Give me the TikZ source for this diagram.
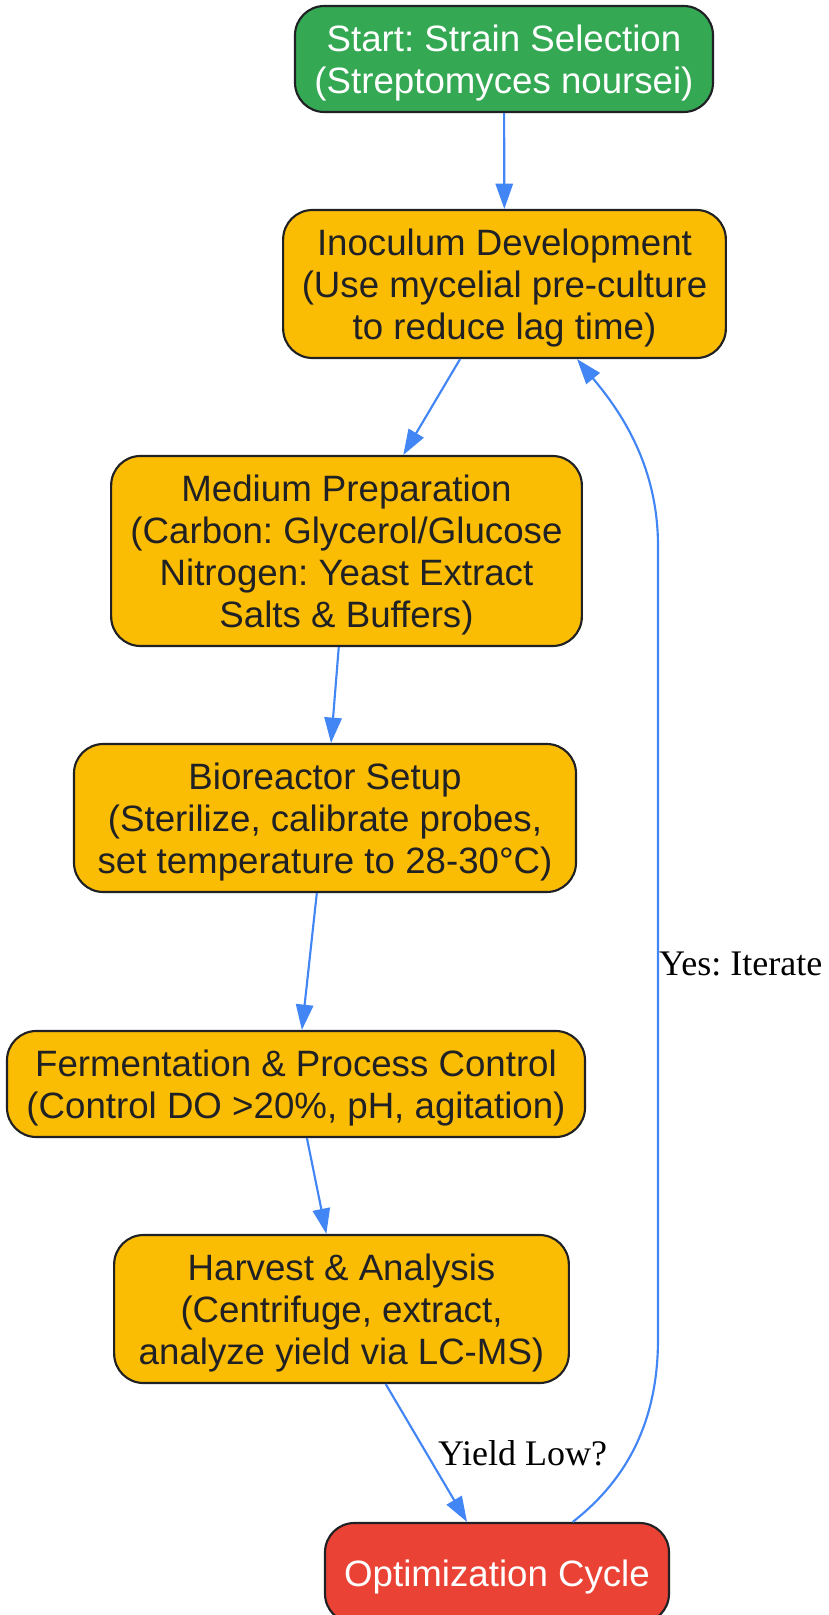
\documentclass[tikz,border=0pt]{standalone}
\usepackage{fontspec}
\setmainfont{Liberation Sans}
\newfontfamily\edgefont{Liberation Serif}
\usetikzlibrary{arrows.meta}
\frenchspacing
\definecolor{stepgreen}{HTML}{34A853}
\definecolor{stepyellow}{HTML}{FBBC04}
\definecolor{stepred}{HTML}{EA4335}
\definecolor{flowblue}{HTML}{4285F4}
\definecolor{inkgrey}{HTML}{202124}
\begin{document}
\begin{tikzpicture}[x=0.75pt,y=-0.75pt,
 box/.style={draw=inkgrey, line width=1.6pt, rounded corners=22pt, align=center, inner sep=0pt, font=\fontsize{27.5pt}{31.5pt}\selectfont, text depth=-3.5pt},
 startbox/.style={box, fill=stepgreen, text=white},
 stepbox/.style={box, fill=stepyellow, text=inkgrey},
 loopbox/.style={box, fill=stepred, text=white},
 flow/.style={draw=flowblue, line width=1.6pt, -{Triangle[length=19pt,width=13pt]}},
 tag/.style={font=\edgefont\fontsize{27pt}{30pt}\selectfont, inner sep=0pt}]
 \useasboundingbox (0,0) rectangle (828,1615);
 \node[startbox, minimum width=313.5pt, minimum height=79.5pt] (start) at (504,59){Start: Strain Selection\\(Streptomyces noursei)};
 \node[stepbox, minimum width=332pt, minimum height=111pt] (inoc) at (504.5,284){Inoculum Development\\(Use mycelial pre-culture\\to reduce lag time)};
 \node[stepbox, minimum width=353pt, minimum height=142.5pt] (medium) at (346.5,551){Medium Preparation\\(Carbon: Glycerol/Glucose\\Nitrogen: Yeast Extract\\Salts \& Buffers)};
 \node[stepbox, minimum width=376.5pt, minimum height=111pt] (bio) at (325,818){Bioreactor Setup\\(Sterilize, calibrate probes,\\set temperature to 28-30°C)};
 \node[stepbox, minimum width=433.5pt, minimum height=79.5pt] (ferm) at (296,1084){Fermentation \& Process Control\\(Control DO >20\%, pH, agitation)};
 \node[stepbox, minimum width=341pt, minimum height=111pt] (harvest) at (341.5,1309){Harvest \& Analysis\\(Centrifuge, extract,\\analyze yield via LC-MS)};
 \node[loopbox, minimum width=258pt, minimum height=75pt] (opt) at (497,1573){Optimization Cycle};
 \draw[flow] (start) -- (inoc);
 \draw[flow] (inoc) -- (medium);
 \draw[flow] (medium) -- (bio);
 \draw[flow] (bio) -- (ferm);
 \draw[flow] (ferm) -- (harvest);
 \draw[flow] (harvest) -- node[tag, pos=0.5, anchor=west, xshift=8pt]{Yield Low?} (opt);
 \draw[flow] (opt.34) .. controls (620,1485) and (658,1430) .. (658,1339)
   -- node[tag, pos=0.473, anchor=west]{Yes: Iterate} (658,546)
   .. controls (658,460) and (615,405) .. (inoc.-46);
\end{tikzpicture}
\end{document}
